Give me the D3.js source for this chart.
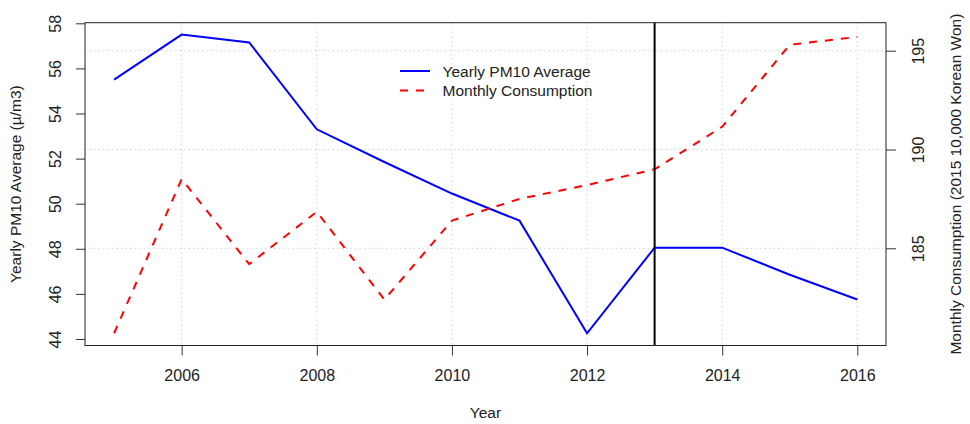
<!DOCTYPE html>
<html>
<head>
<meta charset="utf-8">
<script src="https://cdn.jsdelivr.net/npm/d3@7"></script>
<style>
  body { margin: 0; background: #fff; }
  svg { font-family: "Liberation Sans", Arial, sans-serif; }
</style>
</head>
<body>
<svg id="svg" width="970" height="424"></svg>
<script>
// data
var years = [2005, 2006, 2007, 2008, 2009, 2010, 2011, 2012, 2013, 2014, 2015, 2016];
var pm10 = [55.5, 57.5, 57.15, 53.3, 51.85, 50.45, 49.25, 44.25, 48.05, 48.05, 46.85, 45.75];
var consumption = [180.7, 188.5, 184.2, 186.85, 182.4, 186.4, 187.5, 188.2, 189.0, 191.15, 195.3, 195.7];
var xTicks = [2006, 2008, 2010, 2012, 2014, 2016];
var leftTicks = [44, 46, 48, 50, 52, 54, 56, 58];
var rightTicks = [185, 190, 195];
var markYear = 2013;

// small stand-in for d3-selection-multi
d3.selection.prototype.attrs = function (o) {
  for (var k in o) this.attr(k, o[k]);
  return this;
};

/* plot box */
var box = { left: 85, top: 22.7, right: 886, bottom: 345.5 };
var textCol = '#222';

var scaleX = d3.scaleLinear().domain([2005, 2016]).range([114.1, 857.3]);
var scaleL = d3.scaleLinear().domain([44, 58]).range([339, 23.3]);
var scaleR = d3.scaleLinear().domain([185, 195]).range([248.3, 50.7]);

var s = d3.select('#svg');

// grid (dotted lightgray)
var grid = s.append('g')
  .attr('stroke', '#d3d3d3')
  .attr('stroke-width', 1)
  .attr('stroke-dasharray', '1.5,3');
grid.selectAll('line.v')
  .data(xTicks)
  .enter()
  .append('line')
  .attrs({
    x1: d => scaleX(d), x2: d => scaleX(d),
    y1: box.top, y2: box.bottom
  });
grid.selectAll('line.h')
  .data(rightTicks)
  .enter()
  .append('line')
  .attrs({
    x1: box.left, x2: box.right,
    y1: d => scaleR(d), y2: d => scaleR(d)
  });

// axes
var axisX = d3.axisBottom(scaleX).tickValues(xTicks).tickSize(10).tickFormat(d3.format('d'));
var axisL = d3.axisLeft(scaleL).tickValues(leftTicks).tickSize(9);
var axisR = d3.axisRight(scaleR).tickValues(rightTicks).tickSize(10);

var gx = s.append('g')
  .attr('transform', 'translate(0,' + box.bottom + ')')
  .call(axisX);
gx.selectAll('text').attr('y', 35.5).attr('dy', null);

var gl = s.append('g')
  .attr('transform', 'translate(' + box.left + ',0)')
  .call(axisL);
gl.selectAll('.tick text')
  .attr('x', null).attr('dy', null)
  .attr('text-anchor', 'middle')
  .attr('transform', 'translate(-24,0) rotate(-90)');

var gr = s.append('g')
  .attr('transform', 'translate(' + box.right + ',0)')
  .call(axisR);
gr.selectAll('.tick text')
  .attr('x', null).attr('dy', null)
  .attr('text-anchor', 'middle')
  .attr('transform', 'translate(38,0) rotate(-90)');

[gx, gl, gr].forEach(function (g) {
  g.select('.domain').remove();
  g.attr('font-size', 16).attr('font-family', null);
  g.selectAll('.tick line').attr('stroke', '#333');
  g.selectAll('.tick text').attr('fill', textCol);
});

// lines
var lineL = d3.line()
  .x((d, i) => scaleX(years[i]))
  .y(d => scaleL(d));
var lineR = d3.line()
  .x((d, i) => scaleX(years[i]))
  .y(d => scaleR(d));

s.append('path')
  .datum(pm10)
  .attrs({ d: lineL, fill: 'none', stroke: '#0000ff', 'stroke-width': 2 });

s.append('path')
  .datum(consumption)
  .attrs({ d: lineR, fill: 'none', stroke: '#ff0000', 'stroke-width': 2, 'stroke-dasharray': '8,8' });

// marker line
s.append('line')
  .attrs({
    x1: scaleX(markYear), x2: scaleX(markYear),
    y1: box.top, y2: box.bottom,
    stroke: '#000', 'stroke-width': 2
  });

// box
s.append('rect')
  .attrs({
    x: box.left, y: box.top,
    width: box.right - box.left, height: box.bottom - box.top,
    fill: 'none', stroke: '#222', 'stroke-width': 1
  });

// legend
var legend = [
  { label: 'Yearly PM10 Average', color: '#0000ff', dash: null },
  { label: 'Monthly Consumption', color: '#ff0000', dash: '8,8' }
];
var lg = s.append('g').attr('transform', 'translate(400,71)');
lg.selectAll('line')
  .data(legend)
  .enter()
  .append('line')
  .attrs({
    x1: 0, x2: 30,
    y1: (d, i) => i * 19.5, y2: (d, i) => i * 19.5,
    stroke: d => d.color, 'stroke-width': 2,
    'stroke-dasharray': d => d.dash
  });
lg.selectAll('text')
  .data(legend)
  .enter()
  .append('text')
  .attrs({
    x: 42.5, y: (d, i) => i * 19.5 + 5.5,
    'font-size': 15.5, fill: textCol
  })
  .text(d => d.label);

// axis titles
s.append('text')
  .attrs({ x: (box.left + box.right) / 2, y: 418, 'text-anchor': 'middle', 'font-size': 15.5, fill: textCol })
  .text('Year');
s.append('text')
  .attrs({ transform: 'translate(21,' + (box.top + box.bottom) / 2 + ') rotate(-90)', 'text-anchor': 'middle', 'font-size': 15.5, fill: textCol })
  .text('Yearly PM10 Average (\u00b5/m3)');
s.append('text')
  .attrs({ transform: 'translate(961,' + (box.top + box.bottom) / 2 + ') rotate(-90)', 'text-anchor': 'middle', 'font-size': 15.5, fill: textCol })
  .text('Monthly Consumption (2015 10,000 Korean Won)');
</script>
</body>
</html>
